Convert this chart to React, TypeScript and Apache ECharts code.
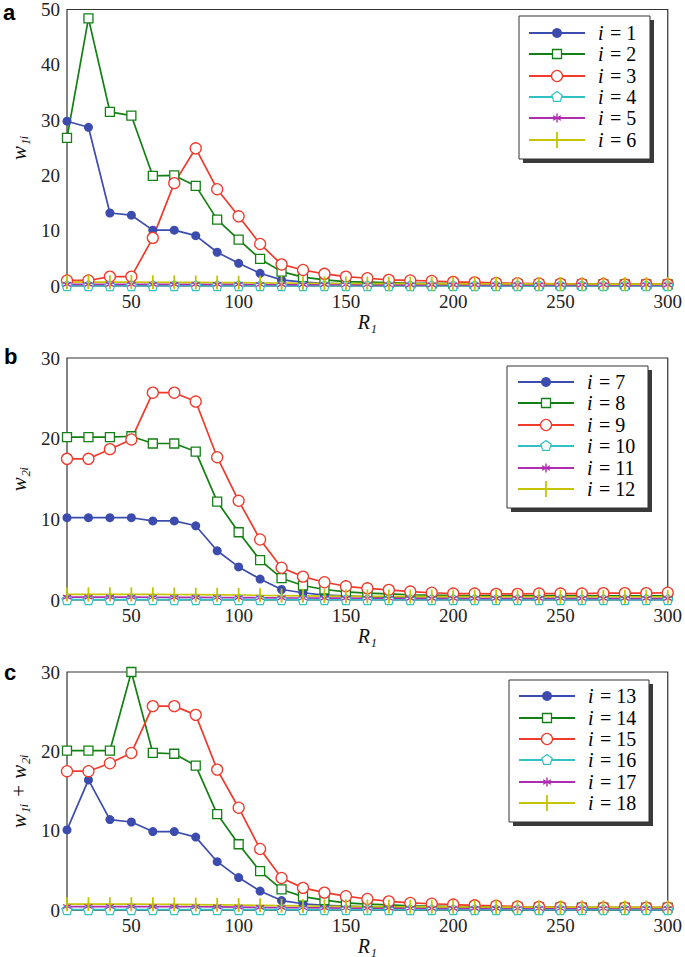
import React, { useEffect, useRef } from "react";
import * as echarts from "echarts";

const R1 = [20, 30, 40, 50, 60, 70, 80, 90, 100, 110, 120, 130, 140, 150, 160, 170, 180, 190, 200, 210, 220, 230, 240, 250, 260, 270, 280, 290, 300];

// Panel a: w_1i
const a1 = [29.8, 28.7, 13.2, 12.8, 10.1, 10.1, 9.1, 6.1, 4.1, 2.3, 1.1, 0.7, 0.5, 0.4, 0.3, 0.25, 0.2, 0.2, 0.15, 0.15, 0.1, 0.1, 0.1, 0.1, 0.1, 0.1, 0.1, 0.1, 0.1];
const a2 = [26.8, 48.4, 31.5, 30.8, 19.9, 20.0, 18.1, 12.0, 8.4, 4.9, 2.6, 1.6, 1.1, 0.8, 0.7, 0.6, 0.5, 0.5, 0.45, 0.4, 0.4, 0.35, 0.35, 0.3, 0.3, 0.3, 0.3, 0.3, 0.3];
const a3 = [1.0, 1.0, 1.7, 1.7, 8.7, 18.6, 24.9, 17.5, 12.6, 7.6, 3.9, 2.9, 2.2, 1.7, 1.4, 1.1, 1.0, 0.9, 0.75, 0.65, 0.55, 0.5, 0.45, 0.4, 0.35, 0.35, 0.3, 0.3, 0.3];
const a4 = [0.05, 0.05, 0.05, 0.05, 0.05, 0.05, 0.05, 0.05, 0.05, 0.05, 0.05, 0.05, 0.05, 0.05, 0.05, 0.05, 0.05, 0.05, 0.05, 0.05, 0.05, 0.05, 0.05, 0.05, 0.05, 0.05, 0.05, 0.05, 0.05];
const a5 = [0.3, 0.3, 0.3, 0.3, 0.3, 0.3, 0.3, 0.3, 0.28, 0.27, 0.26, 0.25, 0.24, 0.23, 0.22, 0.22, 0.21, 0.21, 0.2, 0.2, 0.2, 0.2, 0.2, 0.2, 0.2, 0.2, 0.2, 0.2, 0.2];
const a6 = [0.7, 0.7, 0.7, 0.7, 0.68, 0.66, 0.64, 0.62, 0.6, 0.57, 0.54, 0.5, 0.47, 0.45, 0.43, 0.42, 0.41, 0.4, 0.39, 0.38, 0.38, 0.37, 0.37, 0.36, 0.36, 0.35, 0.35, 0.35, 0.35];

// Panel b: w_2i
const b7 = [10.2, 10.2, 10.2, 10.2, 9.8, 9.8, 9.2, 6.1, 4.1, 2.6, 1.3, 0.9, 0.6, 0.5, 0.4, 0.3, 0.25, 0.2, 0.2, 0.15, 0.1, 0.1, 0.1, 0.1, 0.1, 0.1, 0.1, 0.1, 0.1];
const b8 = [20.2, 20.2, 20.2, 20.3, 19.4, 19.4, 18.4, 12.2, 8.4, 4.95, 2.7, 1.8, 1.3, 1.0, 0.85, 0.75, 0.65, 0.6, 0.55, 0.5, 0.5, 0.5, 0.5, 0.5, 0.5, 0.5, 0.5, 0.5, 0.5];
const b9 = [17.5, 17.5, 18.7, 19.9, 25.7, 25.7, 24.6, 17.7, 12.3, 7.5, 4.0, 2.9, 2.2, 1.7, 1.45, 1.25, 1.05, 0.9, 0.8, 0.8, 0.75, 0.75, 0.8, 0.8, 0.8, 0.85, 0.85, 0.85, 0.9];
const b10 = [0.05, 0.05, 0.05, 0.05, 0.05, 0.05, 0.05, 0.05, 0.05, 0.05, 0.05, 0.05, 0.05, 0.05, 0.05, 0.05, 0.05, 0.05, 0.05, 0.05, 0.05, 0.05, 0.05, 0.05, 0.05, 0.05, 0.05, 0.05, 0.05];
const b11 = [0.35, 0.35, 0.35, 0.35, 0.34, 0.33, 0.32, 0.31, 0.3, 0.28, 0.26, 0.25, 0.24, 0.23, 0.22, 0.22, 0.21, 0.21, 0.2, 0.2, 0.2, 0.2, 0.2, 0.2, 0.2, 0.2, 0.2, 0.2, 0.2];
const b12 = [0.7, 0.7, 0.7, 0.7, 0.7, 0.68, 0.66, 0.64, 0.62, 0.58, 0.55, 0.52, 0.49, 0.47, 0.45, 0.44, 0.43, 0.42, 0.41, 0.4, 0.4, 0.4, 0.4, 0.4, 0.4, 0.4, 0.4, 0.4, 0.4];

// Panel c: w_1i + w_2i
const c13 = [10.1, 16.4, 11.4, 11.1, 9.9, 9.9, 9.2, 6.1, 4.1, 2.4, 1.2, 0.8, 0.6, 0.5, 0.4, 0.3, 0.25, 0.2, 0.2, 0.15, 0.15, 0.1, 0.1, 0.1, 0.1, 0.1, 0.1, 0.1, 0.1];
const c14 = [20.1, 20.1, 20.1, 30.0, 19.8, 19.7, 18.2, 12.1, 8.3, 4.9, 2.6, 1.7, 1.25, 0.9, 0.75, 0.65, 0.55, 0.5, 0.45, 0.4, 0.4, 0.35, 0.35, 0.3, 0.3, 0.3, 0.3, 0.3, 0.3];
const c15 = [17.5, 17.5, 18.5, 19.8, 25.7, 25.7, 24.6, 17.7, 12.9, 7.7, 4.05, 2.8, 2.2, 1.75, 1.4, 1.1, 0.9, 0.8, 0.7, 0.6, 0.55, 0.45, 0.4, 0.35, 0.3, 0.3, 0.3, 0.3, 0.3];
const c16 = [0.05, 0.05, 0.05, 0.05, 0.05, 0.05, 0.05, 0.05, 0.05, 0.05, 0.05, 0.05, 0.05, 0.05, 0.05, 0.05, 0.05, 0.05, 0.05, 0.05, 0.05, 0.05, 0.05, 0.05, 0.05, 0.05, 0.05, 0.05, 0.05];
const c17 = [0.45, 0.45, 0.45, 0.45, 0.44, 0.43, 0.42, 0.4, 0.38, 0.35, 0.32, 0.3, 0.28, 0.26, 0.25, 0.24, 0.23, 0.22, 0.22, 0.21, 0.21, 0.2, 0.2, 0.2, 0.2, 0.2, 0.2, 0.2, 0.2];
const c18 = [0.75, 0.75, 0.75, 0.75, 0.74, 0.72, 0.7, 0.67, 0.64, 0.6, 0.56, 0.52, 0.49, 0.47, 0.45, 0.43, 0.42, 0.41, 0.4, 0.39, 0.38, 0.37, 0.37, 0.36, 0.36, 0.35, 0.35, 0.35, 0.35];

const labelsA = ["i = 1", "i = 2", "i = 3", "i = 4", "i = 5", "i = 6"];
const labelsB = ["i = 7", "i = 8", "i = 9", "i = 10", "i = 11", "i = 12"];
const labelsC = ["i = 13", "i = 14", "i = 15", "i = 16", "i = 17", "i = 18"];

const yTitles = ["w₁ᵢ", "w₂ᵢ", "w₁ᵢ + w₂ᵢ"];
const xTitle = "R₁";
const yMax = [50, 30, 30];
const panelLetters = ["a", "b", "c"];

const COLORS = ["#3b4cae", "#138013", "#f03a2c", "#2fc1c4", "#b02cb0", "#c4c400"];
const SERIF = "Liberation Serif";

const PENTAGON = "path://M0,-10 L9.51,-3.09 L5.88,8.09 L-5.88,8.09 L-9.51,-3.09 Z";
const ASTER = "path://M0,-10 L0,10 M-8.66,-5 L8.66,5 M-8.66,5 L8.66,-5";

function markerStyle(k: number) {
  const c = COLORS[k];
  switch (k) {
    case 0:
      return { symbol: "circle", symbolSize: 9, itemStyle: { color: c } };
    case 1:
      return { symbol: "rect", symbolSize: 9, itemStyle: { color: "#fff", borderColor: c, borderWidth: 1.3 } };
    case 2:
      return { symbol: "circle", symbolSize: 11, itemStyle: { color: "#fff", borderColor: c, borderWidth: 1.3 } };
    case 3:
      return { symbol: PENTAGON, symbolSize: 10, itemStyle: { color: "#fff", borderColor: c, borderWidth: 1.2 } };
    case 4:
      return { symbol: ASTER, symbolSize: 8, itemStyle: { color: c, borderColor: c, borderWidth: 1.3 } };
    default:
      return { symbol: "rect", symbolSize: [1.8, 14], itemStyle: { color: c } };
  }
}

function legendIcon(k: number, cx: number, cy: number): any[] {
  const c = COLORS[k];
  const out: any[] = [];
  out.push({ type: "line", shape: { x1: cx - 28, y1: cy, x2: cx + 28, y2: cy }, style: { stroke: c, lineWidth: 1.8 } });
  if (k === 0) out.push({ type: "circle", shape: { cx, cy, r: 5 }, style: { fill: c } });
  else if (k === 1) out.push({ type: "rect", shape: { x: cx - 4.5, y: cy - 4.5, width: 9, height: 9 }, style: { fill: "#fff", stroke: c, lineWidth: 1.3 } });
  else if (k === 2) out.push({ type: "circle", shape: { cx, cy, r: 5.5 }, style: { fill: "#fff", stroke: c, lineWidth: 1.3 } });
  else if (k === 3) {
    const r = 5.5;
    const pts: number[][] = [];
    for (let j = 0; j < 5; j++) {
      const ang = -Math.PI / 2 + (j * 2 * Math.PI) / 5;
      pts.push([cx + r * Math.cos(ang), cy + r * Math.sin(ang)]);
    }
    out.push({ type: "polygon", shape: { points: pts }, style: { fill: "#fff", stroke: c, lineWidth: 1.2 } });
  } else if (k === 4) {
    const r = 4.5;
    for (let j = 0; j < 3; j++) {
      const ang = Math.PI / 2 + (j * Math.PI) / 3;
      out.push({ type: "line", shape: { x1: cx - r * Math.cos(ang), y1: cy - r * Math.sin(ang), x2: cx + r * Math.cos(ang), y2: cy + r * Math.sin(ang) }, style: { stroke: c, lineWidth: 1.4 } });
    }
  } else {
    out.push({ type: "line", shape: { x1: cx, y1: cy - 8, x2: cx, y2: cy + 8 }, style: { stroke: c, lineWidth: 1.8 } });
  }
  return out;
}

function legendBox(box: { x: number; y: number; w: number; h: number }, rows: number[], iconX: number, textX: number, labels: string[]): any[] {
  const els: any[] = [];
  els.push({ type: "rect", shape: { x: box.x + 4, y: box.y + 4, width: box.w, height: box.h }, style: { fill: "#3a3a3a" }, z: 10 });
  els.push({ type: "rect", shape: { x: box.x, y: box.y, width: box.w, height: box.h }, style: { fill: "#fff", stroke: "#333", lineWidth: 1 }, z: 11 });
  rows.forEach((y, k) => {
    legendIcon(k, iconX, y).forEach((e) => els.push({ ...e, z: 12 }));
    const num = labels[k].replace("i = ", "");
    els.push({ type: "text", x: textX, y: y - 10, z: 12, style: { text: "i", fontFamily: SERIF, fontStyle: "italic", fontSize: 20 } });
    els.push({ type: "text", x: textX + 12, y: y - 10, z: 12, style: { text: "= " + num, fontFamily: SERIF, fontSize: 20 } });
  });
  return els;
}

export default function App() {
  const ref = useRef<HTMLDivElement>(null);
  useEffect(() => {
    if (!ref.current) return;
    const chart = echarts.init(ref.current, null, { renderer: "svg" });
    const grids = [
      { left: 58, top: 8, width: 612, height: 278 },
      { left: 56, top: 358, width: 613, height: 242 },
      { left: 58, top: 672, width: 611, height: 241 },
    ];
    const xGaps = [26, 22, 25];
    const yGaps = [38, 38, 38];
    const panels = [
      [a1, a2, a3, a4, a5, a6],
      [b7, b8, b9, b10, b11, b12],
      [c13, c14, c15, c16, c17, c18],
    ];
    const allLabels = [labelsA, labelsB, labelsC];

    const series: any[] = [];
    panels.forEach((arrs, p) => {
      arrs.forEach((arr, k) => {
        series.push({
          type: "line",
          name: allLabels[p][k],
          xAxisIndex: p,
          yAxisIndex: p,
          data: R1.map((x, i) => [x, arr[i]]),
          lineStyle: { color: COLORS[k], width: 1.7 },
          clip: false,
          ...markerStyle(k),
        });
      });
    });

    const xAxis = grids.map((_, p) => ({
      type: "value",
      gridIndex: p,
      min: 20,
      max: 300,
      interval: 10,
      name: xTitle,
      nameLocation: "middle",
      nameGap: xGaps[p],
      nameTextStyle: { fontFamily: SERIF, fontStyle: "italic", fontSize: 20, color: "#111" },
      axisLine: { show: false },
      axisTick: { show: false },
      splitLine: { show: false },
      axisLabel: {
        fontFamily: SERIF,
        fontSize: 19,
        color: "#222",
        margin: 6,
        formatter: (v: number) => (v % 50 === 0 ? String(v) : ""),
      },
    }));

    const yAxis = grids.map((_, p) => ({
      type: "value",
      gridIndex: p,
      min: 0,
      max: yMax[p],
      interval: 10,
      name: yTitles[p],
      nameLocation: "middle",
      nameRotate: 90,
      nameGap: yGaps[p],
      nameTextStyle: { fontFamily: SERIF, fontStyle: "italic", fontSize: 21, color: "#111" },
      axisLine: { show: false },
      axisTick: { show: false },
      splitLine: { show: false },
      axisLabel: { fontFamily: SERIF, fontSize: 19, color: "#222", margin: 7 },
    }));

    const graphic: any[] = [];
    const letterY = [1, 345, 661];
    const letterX = [3, 4, 4];
    panelLetters.forEach((l, p) => {
      graphic.push({
        type: "text",
        x: letterX[p],
        y: letterY[p],
        style: { text: l, fontFamily: "Liberation Sans", fontWeight: "bold", fontSize: 22 },
      });
    });
    graphic.push(...legendBox({ x: 519, y: 16, w: 131, h: 143 }, [33, 54, 76, 97, 118, 140], 557, 598, labelsA));
    graphic.push(...legendBox({ x: 507, y: 366, w: 141, h: 142 }, [382, 403, 425, 446, 468, 489], 546, 587, labelsB));
    graphic.push(...legendBox({ x: 509, y: 680, w: 140, h: 142 }, [696, 718, 739, 760, 782, 803], 547, 588, labelsC));

    chart.setOption({
      animation: false,
      backgroundColor: "#fff",
      grid: grids.map((g) => ({ ...g, show: true, borderColor: "#333", borderWidth: 1.2, backgroundColor: "transparent", containLabel: false })),
      xAxis,
      yAxis,
      series,
      graphic,
    });
    return () => chart.dispose();
  }, []);
  return <div ref={ref} style={{ position: "fixed", left: 0, top: 0, width: 685, height: 957, background: "#fff" }} />;
}
